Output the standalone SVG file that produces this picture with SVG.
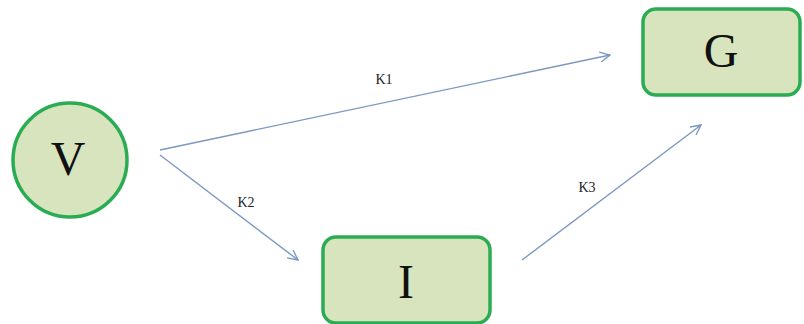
<svg xmlns="http://www.w3.org/2000/svg" width="804" height="324" viewBox="0 0 804 324">
  <style>
    .node { fill: #d8e4bd; stroke: #2aac52; stroke-width: 3.5; }
    .big { font-family: "Liberation Serif", serif; font-size: 48px; fill: #111; text-anchor: middle; }
    .lbl { font-family: "Liberation Serif", serif; font-size: 14px; fill: #222; text-anchor: middle; }
    .edge { stroke: #7b98c2; stroke-width: 1.4; fill: none; marker-end: url(#open); }
  </style>
  <defs>
    <marker id="open" viewBox="0 0 12 12" refX="11" refY="6" markerWidth="12" markerHeight="12" markerUnits="userSpaceOnUse" orient="auto">
      <path d="M1,1 L11,6 L1,11" fill="none" stroke="#7b98c2" stroke-width="1.4"/>
    </marker>
  </defs>
  <rect width="804" height="324" fill="#ffffff"/>
  <g id="edges">
    <line class="edge" x1="160" y1="150" x2="610" y2="55"/>
    <line class="edge" x1="160" y1="155" x2="298" y2="260"/>
    <line class="edge" x1="522" y1="260" x2="701" y2="125"/>
    <text class="lbl" x="384" y="84">K1</text>
    <text class="lbl" x="246" y="207">K2</text>
    <text class="lbl" x="587" y="192">K3</text>
  </g>
  <g id="V">
    <circle class="node" cx="70" cy="160" r="57"/>
    <text class="big" x="68" y="175">V</text>
  </g>
  <g id="G">
    <rect class="node" x="643" y="9" width="157" height="86" rx="13"/>
    <text class="big" x="721" y="67">G</text>
  </g>
  <g id="I">
    <rect class="node" x="323" y="237" width="167" height="86" rx="13"/>
    <text class="big" x="406" y="298">I</text>
  </g>
</svg>
